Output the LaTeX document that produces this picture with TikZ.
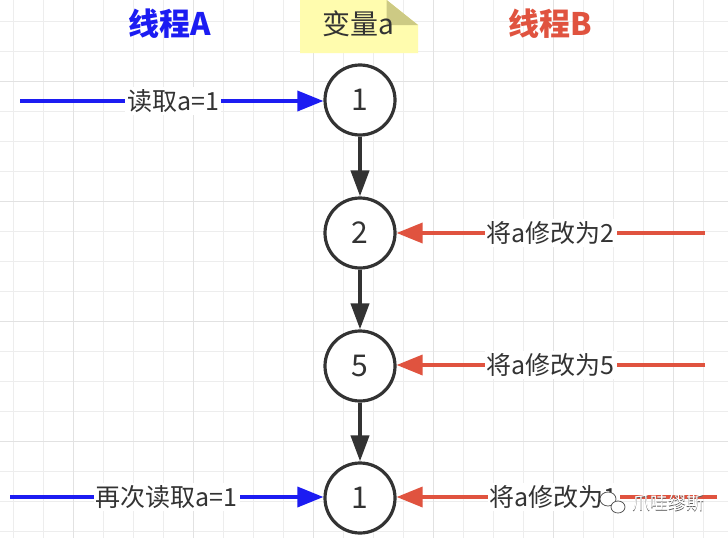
\documentclass[tikz,border=0pt]{standalone}
\usepackage{fontspec}
\setmainfont{Noto Sans CJK SC}
\usetikzlibrary{arrows.meta}
\definecolor{gridminor}{HTML}{EDEDED}
\definecolor{gridmajor}{HTML}{E2E2E2}
\definecolor{ablue}{HTML}{1C1CF2}
\definecolor{bred}{HTML}{E0533F}
\definecolor{dk}{HTML}{333333}
\definecolor{noteyel}{HTML}{FFFCAE}
\definecolor{notefold}{HTML}{CDCA84}
\tikzset{
  valnode/.style={draw=dk, line width=3.2pt, fill=white, valtext},
  valtext/.style={circle, minimum size=70pt, inner sep=0pt, text=dk, font=\fontsize{30}{30}\selectfont},
  flow/.style={draw=dk, line width=4pt, -{Triangle[length=26pt,width=18pt]}},
  bluearr/.style={draw=ablue, line width=3.5pt, -{Triangle[length=26pt,width=20pt]}},
  redarr/.style={draw=bred, line width=3.5pt, -{Triangle[length=26pt,width=20pt]}},
  lbl/.style={fill=white, text=dk, inner sep=2pt, font=\fontsize{25}{25}\selectfont},
  title/.style={font=\fontsize{31}{31}\selectfont\bfseries},
}
\begin{document}
\begin{tikzpicture}[x=1pt,y=-1pt]
\useasboundingbox (0,0) rectangle (728,538);
\fill[white] (0,0) rectangle (728,538);
% grid
\foreach \i in {0,...,24} {
  \draw[gridminor, line width=1pt] ({13.3+30*\i},0) -- ({13.3+30*\i},538);
}
\foreach \j in {0,...,17} {
  \draw[gridminor, line width=1pt] (0,{21.7+30*\j}) -- (728,{21.7+30*\j});
}
\foreach \i in {0,...,5} {
  \draw[gridmajor, line width=1.3pt] ({73.3+120*\i},0) -- ({73.3+120*\i},538);
}
\foreach \j in {0,...,3} {
  \draw[gridmajor, line width=1.3pt] (0,{81.7+120*\j}) -- (728,{81.7+120*\j});
}
% titles
\node[title, text=ablue] (tA) at (170,24) {线程A};
\node[title, text=bred] (tB) at (550,24) {线程B};
\fill[noteyel] (300,0) -- (386.7,0) -- (418,25) -- (418,53) -- (300,53) -- cycle;
\fill[notefold] (386.7,0) -- (418,25) -- (386.7,25) -- cycle;
\node[text=dk, font=\fontsize{28}{28}\selectfont] (tV) at (358,24) {变量a};
% value nodes
\node[valnode] (v1) at (360,100) {1};
\node[valnode] (v2) at (360,233) {2};
\node[valnode] (v5) at (360,366) {5};
\node[valnode] (v4) at (360,498) {1};
\draw[flow] (v1) -- (v2);
\draw[flow] (v2) -- (v5);
\draw[flow] (v5) -- (v4);
% thread A
\coordinate (a1) at (20,101);
\coordinate (a2) at (10,497);
\draw[bluearr] (a1) -- node[lbl, pos=0.505] (l1) {读取a=1} (v1.west |- a1);
\draw[bluearr] (a2) -- node[lbl, pos=0.5] (l4) {再次读取a=1} (v4.west |- a2);
% thread B
\coordinate (b2) at (705,233);
\coordinate (b5) at (705,365);
\coordinate (b4) at (717,497);
\draw[redarr] (b2) -- node[lbl, pos=0.5] (l2) {将a修改为2} (v2.east |- b2);
\draw[redarr] (b5) -- node[lbl, pos=0.5] (l5) {将a修改为5} (v5.east |- b5);
\draw[redarr] (b4) -- node[lbl, pos=0.51] (l6) {将a修改为1} (v4.east |- b4);
% watermark
\draw[gray!70!black, line width=0.8pt, fill=white] (608,499) ellipse (8pt and 7pt);
\draw[gray!70!black, line width=0.8pt, fill=white] (618,507) ellipse (7pt and 6pt);
\node[text=gray!70!black, font=\fontsize{18}{18}\selectfont] at (668.7,503.7) {爪哇缪斯};
\node[text=white, font=\fontsize{18}{18}\selectfont] (wm) at (668,503) {爪哇缪斯};
\end{tikzpicture}
\end{document}
